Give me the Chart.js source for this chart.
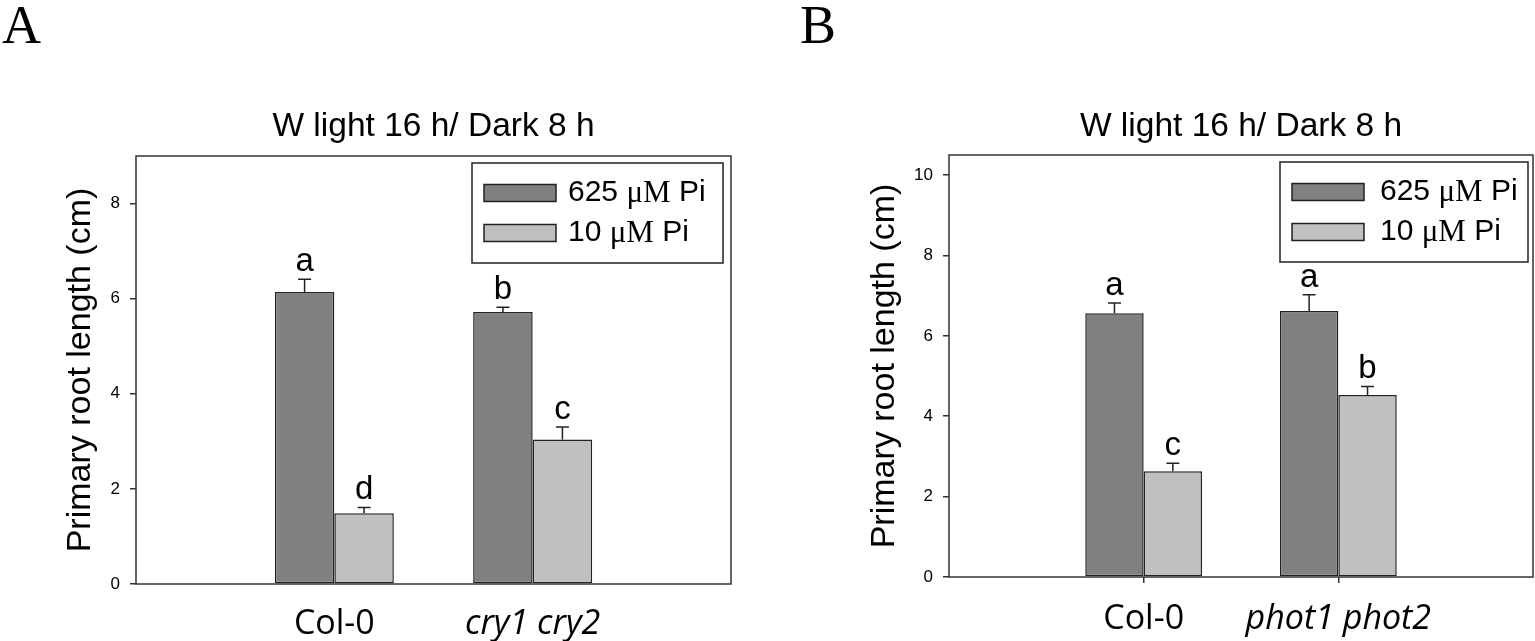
<!DOCTYPE html>
<html>
<head>
<meta charset="utf-8">
<script src="https://cdn.jsdelivr.net/npm/chart.js@4.4.1/dist/chart.umd.min.js"></script>
<style>
  html, body { margin: 0; padding: 0; background: #fff; }
  body { width: 1535px; height: 641px; position: relative; overflow: hidden; }
  .panel { position: absolute; top: 0; height: 641px; }
  #panelA { left: 0; width: 760px; }
  #panelB { left: 770px; width: 765px; }
</style>
</head>
<body>
<div class="panel" id="panelA"><canvas id="chartA"></canvas></div>
<div class="panel" id="panelB"><canvas id="chartB"></canvas></div>
<script>
// data
const seriesNames = ['625 μM Pi', '10 μM Pi'];
const seriesColors = ['#808080', '#c0c0c0'];

const groupsA = ['Col-0', 'cry1 cry2'];
const highPiA = [6.14, 5.72];
const highPiErrA = [0.27, 0.10];
const lowPiA = [1.49, 3.04];
const lowPiErrA = [0.12, 0.26];
const lettersHighA = ['a', 'b'];
const lettersLowA = ['d', 'c'];

const groupsB = ['Col-0', 'phot1 phot2'];
const highPiB = [6.56, 6.62];
const highPiErrB = [0.26, 0.40];
const lowPiB = [2.63, 4.53];
const lowPiErrB = [0.20, 0.21];
const lettersHighB = ['a', 'a'];
const lettersLowB = ['c', 'b'];

const titleText = 'W light 16 h/ Dark 8 h';
const yTitle = 'Primary root length (cm)';

const sans = "'Liberation Sans', Arial, sans-serif";
const serif = "'Liberation Serif', 'Times New Roman', serif";

// pad the two groups with empty slots at both ends so they sit at 1/3 and 2/3
function padded(arr, fill) {
    return [fill].concat(arr, [fill]);
}

const errorBars = {
    id: 'errorBars',
    afterDatasetsDraw(chart) {
        const ctx = chart.ctx;
        const yScale = chart.scales.y;
        chart.data.datasets.forEach((ds, di) => {
            const meta = chart.getDatasetMeta(di);
            meta.data.forEach((bar, i) => {
                if (ds.data[i] == null) return;
                const top = yScale.getPixelForValue(ds.data[i] + ds.errors[i]);
                ctx.save();
                ctx.strokeStyle = '#222';
                ctx.lineWidth = 1.5;
                ctx.beginPath();
                ctx.moveTo(bar.x, bar.y);
                ctx.lineTo(bar.x, top);
                ctx.moveTo(bar.x - 6.5, top);
                ctx.lineTo(bar.x + 6.5, top);
                ctx.stroke();
                ctx.fillStyle = '#000';
                ctx.font = '33px ' + sans;
                ctx.textAlign = 'center';
                ctx.textBaseline = 'alphabetic';
                ctx.fillText(ds.letters[i], bar.x, top - 8);
                ctx.restore();
            });
        });
    }
};

const frameAndLegend = {
    id: 'frameAndLegend',
    afterDraw(chart, args, opts) {
        const ctx = chart.ctx;
        const area = chart.chartArea;
        ctx.save();
        ctx.strokeStyle = '#333';
        ctx.lineWidth = 1.5;
        ctx.strokeRect(area.left, area.top, area.right - area.left, area.bottom - area.top);

        // legend box
        const lx = area.right - opts.inset - opts.width;
        const ly = area.top + 7;
        ctx.strokeStyle = '#222';
        ctx.strokeRect(lx, ly, opts.width, 100);
        chart.data.datasets.forEach((ds, i) => {
            const rowY = ly + 30 + i * 40;
            ctx.fillStyle = ds.backgroundColor;
            ctx.fillRect(lx + 12, rowY - 8.5, 72, 17);
            ctx.strokeStyle = '#222';
            ctx.lineWidth = 1.5;
            ctx.strokeRect(lx + 12, rowY - 8.5, 72, 17);
            // label: number and "Pi" in sans, the unit in serif
            const parts = ds.label.split('μM');
            let x = lx + opts.textOffset;
            ctx.fillStyle = '#000';
            ctx.textBaseline = 'middle';
            ctx.textAlign = 'left';
            ctx.font = '30px ' + sans;
            ctx.fillText(parts[0], x, rowY);
            x += ctx.measureText(parts[0]).width;
            ctx.font = '31px ' + serif;
            ctx.fillText('μM', x, rowY + 1);
            x += ctx.measureText('μM').width;
            ctx.font = '30px ' + sans;
            ctx.fillText(parts[1], x, rowY);
        });

        // panel letter
        ctx.fillStyle = '#000';
        ctx.font = '54px ' + serif;
        ctx.textAlign = 'left';
        ctx.textBaseline = 'alphabetic';
        ctx.fillText(opts.panel, opts.panelX, 43);
        ctx.restore();
    }
};

function makeChart(canvasId, cfg) {
    const labels = padded(cfg.groups, '');
    const ctx = document.getElementById(canvasId).getContext('2d');
    return new Chart(ctx, {
        type: 'bar',
        data: {
            labels: labels,
            datasets: [
                {
                    label: seriesNames[0],
                    data: padded(cfg.high, null),
                    errors: padded(cfg.highErr, 0),
                    letters: padded(cfg.highLetters, ''),
                    backgroundColor: seriesColors[0],
                    borderColor: '#222',
                    borderWidth: 1.5,
                    borderSkipped: false
                },
                {
                    label: seriesNames[1],
                    data: padded(cfg.low, null),
                    errors: padded(cfg.lowErr, 0),
                    letters: padded(cfg.lowLetters, ''),
                    backgroundColor: seriesColors[1],
                    borderColor: '#222',
                    borderWidth: 1.5,
                    borderSkipped: false
                }
            ]
        },
        options: {
            responsive: true,
            maintainAspectRatio: false,
            animation: false,
            categoryPercentage: 0.6,
            barPercentage: 1.0,
            layout: {
                padding: { left: 0, right: cfg.padRight, top: 0, bottom: 0 }
            },
            scales: {
                x: {
                    type: 'category',
                    offset: false,
                    border: { display: false },
                    grid: {
                        offset: false,
                        drawOnChartArea: false,
                        drawTicks: true,
                        tickLength: 6,
                        lineWidth: 1.5,
                        color: (c) => (cfg.xTicks && (c.index === 1 || c.index === 2)) ? '#333' : 'rgba(0,0,0,0)'
                    },
                    ticks: {
                        color: '#000',
                        padding: cfg.xPad,
                        maxRotation: 0,
                        autoSkip: false,
                        font: (c) => ({
                            family: "'Open Sans', sans-serif",
                            size: 34,
                            style: c.index === 2 ? 'italic' : 'normal'
                        })
                    },
                    afterFit: (scale) => {
                        scale.height = cfg.xHeight;
                        // the empty end labels need no side room
                        scale.paddingLeft = 0;
                        scale.paddingRight = 0;
                    }
                },
                y: {
                    min: 0,
                    max: cfg.yMax,
                    border: { display: false },
                    grid: {
                        drawOnChartArea: false,
                        drawTicks: true,
                        tickLength: 6,
                        lineWidth: 1.5,
                        color: '#333'
                    },
                    ticks: {
                        stepSize: 2,
                        padding: 10,
                        color: '#000',
                        font: { family: sans, size: 17 }
                    },
                    afterBuildTicks: (scale) => {
                        scale.ticks = scale.ticks.filter(t => t.value % 2 === 0);
                    },
                    title: {
                        display: true,
                        text: yTitle,
                        color: '#000',
                        font: { family: sans, size: 34 },
                        padding: { top: cfg.yTitlePad, bottom: 0 }
                    },
                    afterFit: (scale) => { scale.width = cfg.yWidth; }
                }
            },
            plugins: {
                legend: { display: false },
                tooltip: { enabled: false },
                title: {
                    display: true,
                    fullSize: false,
                    text: titleText,
                    color: '#000',
                    font: { family: sans, size: 33.5, weight: 'normal' },
                    padding: { top: 106.9, bottom: cfg.titlePadBottom }
                },
                frameAndLegend: {
                    panel: cfg.panel,
                    panelX: cfg.panelX,
                    width: cfg.legendWidth,
                    inset: cfg.legendInset,
                    textOffset: cfg.legendTextOffset
                }
            }
        },
        plugins: [errorBars, frameAndLegend]
    });
}

makeChart('chartA', {
    panel: 'A', panelX: 2,
    groups: groupsA,
    high: highPiA, highErr: highPiErrA, highLetters: lettersHighA,
    low: lowPiA, lowErr: lowPiErrA, lowLetters: lettersLowA,
    yMax: 9, xTicks: false,
    padRight: 29, yWidth: 136, xHeight: 57, xPad: 14,
    yTitlePad: 60, titlePadBottom: 8.9,
    legendWidth: 251, legendInset: 8, legendTextOffset: 96
});

makeChart('chartB', {
    panel: 'B', panelX: 30,
    groups: groupsB,
    high: highPiB, highErr: highPiErrB, highLetters: lettersHighB,
    low: lowPiB, lowErr: lowPiErrB, lowLetters: lettersLowB,
    yMax: 10.5, xTicks: true,
    padRight: 2, yWidth: 179, xHeight: 64, xPad: 16,
    yTitlePad: 94, titlePadBottom: 7.9,
    legendWidth: 248, legendInset: 5, legendTextOffset: 100
});
</script>
</body>
</html>
